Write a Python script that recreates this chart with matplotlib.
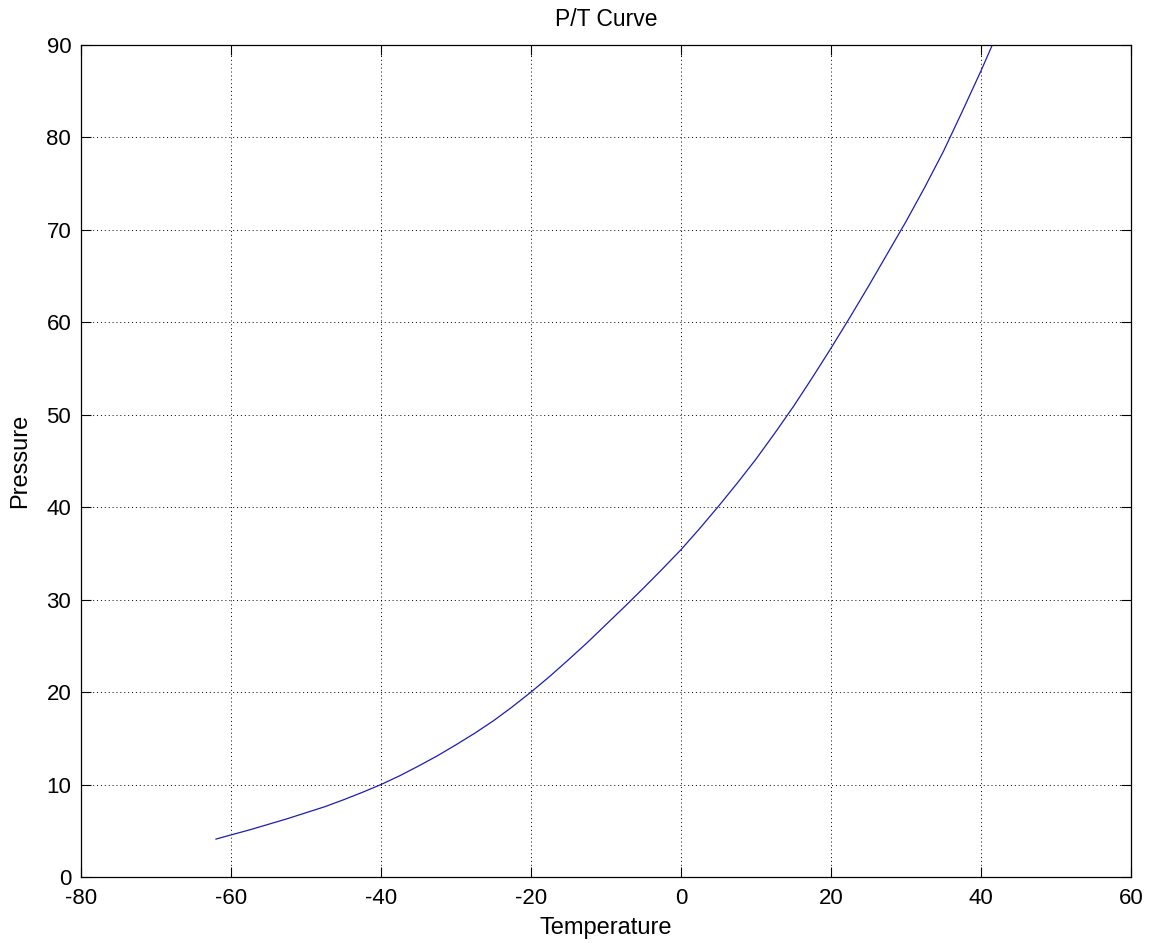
import matplotlib.pyplot as plt

# values
temperature = [-62, -60, -57.5, -55, -52.5, -50, -47.5, -45, -42.5, -40, -37.5, -35,
               -32.5, -30, -27.5, -25, -22.5, -20, -17.5, -15, -12.5, -10, -7.5, -5,
               -2.5, 0, 2.5, 5, 7.5, 10, 12.5, 15, 17.5, 20, 22.5, 25, 27.5, 30,
               32.5, 35, 37.5, 40, 42]
pressure = [4.1, 4.55, 5.1, 5.7, 6.3, 6.95, 7.6, 8.35, 9.15, 10.0, 10.95, 12.0,
            13.1, 14.3, 15.55, 16.9, 18.4, 20.0, 21.7, 23.5, 25.35, 27.3, 29.25, 31.25,
            33.3, 35.4, 37.7, 40.1, 42.6, 45.2, 48.0, 50.9, 54.0, 57.2, 60.5, 63.9, 67.4, 70.9,
            74.6, 78.5, 82.8, 87.2, 90.9]

x_ticks = [-80, -60, -40, -20, 0, 20, 40, 60]
y_ticks = [0, 10, 20, 30, 40, 50, 60, 70, 80, 90]

plt.rcParams['font.family'] = ['Liberation Sans', 'DejaVu Sans']
plt.rcParams['axes.unicode_minus'] = False

fig = plt.figure(figsize=(11.55, 9.43), dpi=100)
ax = fig.add_axes([0.0701, 0.070, 0.9091, 0.8823])

ax.plot(temperature, pressure, color='#1c1cb8', linewidth=0.9)

ax.set_xlim(-80, 60)
ax.set_ylim(0, 90)
ax.set_xticks(x_ticks)
ax.set_yticks(y_ticks)
ax.tick_params(direction='in', length=7, width=0.8, labelsize=16,
               top=True, right=True)
ax.tick_params(axis='x', pad=8)
ax.tick_params(axis='y', pad=7)
ax.grid(True, linestyle=(0, (1, 3)), color='black', linewidth=0.7)

for s in ax.spines.values():
    s.set_linewidth(0.9)

ax.set_title('P/T Curve', fontsize=16.5, pad=14)
ax.set_xlabel('Temperature', fontsize=17, labelpad=6)
ax.set_ylabel('Pressure', fontsize=17, labelpad=11)

fig.savefig('out.png', dpi=100)
